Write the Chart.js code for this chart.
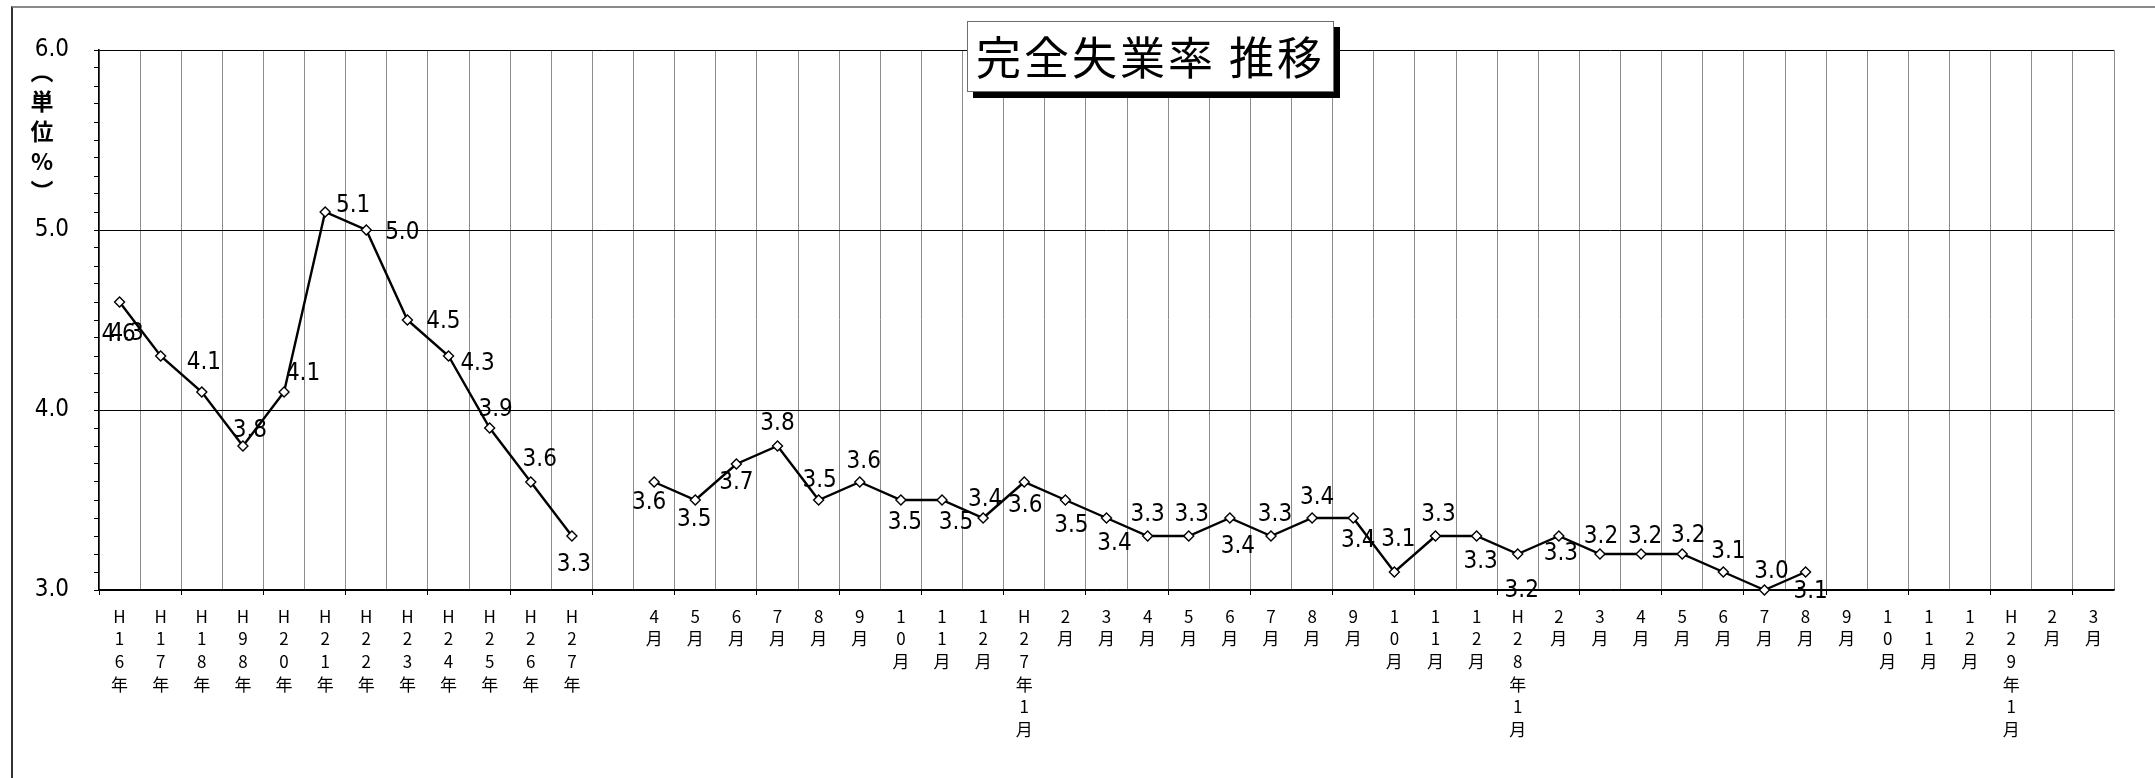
<!DOCTYPE html>
<html lang="ja">
<head>
<meta charset="utf-8">
<script src="https://cdn.jsdelivr.net/npm/chart.js@4.4.0/dist/chart.umd.min.js"></script>
<style>
html, body { margin: 0; padding: 0; background: #fff; }
body { width: 2155px; height: 778px; position: relative; overflow: hidden; }
#frame { position: absolute; left: 11px; top: 6px; width: 2300px; height: 900px;
  border-top: 2px solid #8a8a8a; border-left: 2px solid #333; }
#c { position: absolute; left: 0; top: 0; }
#title { position: absolute; left: 967px; top: 21px; width: 367px; height: 71px; box-sizing: border-box;
  border: 1.5px solid #6e6e6e; background: #fff; box-shadow: 6px 6px 0 #000;
  font: 45px 'Noto Sans CJK JP', sans-serif; letter-spacing: 3px; text-align: center; line-height: 68px;
  white-space: nowrap; }
#ytitle { position: absolute; left: 30px; top: 60px; width: 24px;
  writing-mode: vertical-rl; text-orientation: upright;
  font: bold 23px 'Noto Sans CJK JP', sans-serif; letter-spacing: 7px; line-height: 24px; }
</style>
</head>
<body>
<div id="frame"></div>
<canvas id="c" width="2155" height="778"></canvas>
<div id="title">完全失業率 推移</div>
<div id="ytitle">（単位%）</div>
<script>
// 年平均 (H16〜H27)
const annualLabels = ['H16年', 'H17年', 'H18年', 'H98年', 'H20年', 'H21年', 'H22年',
  'H23年', 'H24年', 'H25年', 'H26年', 'H27年'];
const annualValues = [4.6, 4.3, 4.1, 3.8, 4.1, 5.1, 5.0, 4.5, 4.3, 3.9, 3.6, 3.3];

// 月次 (H26年4月〜H29年3月)
const monthLabels = ['4月', '5月', '6月', '7月', '8月', '9月', '10月', '11月', '12月',
  'H27年1月', '2月', '3月', '4月', '5月', '6月', '7月', '8月', '9月', '10月', '11月', '12月',
  'H28年1月', '2月', '3月', '4月', '5月', '6月', '7月', '8月', '9月', '10月', '11月', '12月',
  'H29年1月', '2月', '3月'];
const monthValues = [3.6, 3.5, 3.7, 3.8, 3.5, 3.6, 3.5, 3.5, 3.4,
  3.6, 3.5, 3.4, 3.3, 3.3, 3.4, 3.3, 3.4, 3.4, 3.1, 3.3, 3.3,
  3.2, 3.3, 3.2, 3.2, 3.2, 3.1, 3.0, 3.1];

// data label nudges [dx, dy] from the point, one per plotted value
const labelNudge = [
  [-1, 33], [-34, -22], [2, -29], [7, -15], [19, -18], [28, -6], [36, 3], [36, 2],
  [29, 8], [6, -18], [9, -22], [2, 29],
  [-5, 21], [-1, 20], [0, 19], [0, -22], [1, -19], [4, -20], [4, 23], [14, 23], [2, -18],
  [1, 24], [6, 26], [8, 26], [0, -21], [3, -21], [8, 29], [4, -21], [5, -20], [5, 23],
  [4, -32], [3, -21], [4, 26], [4, 37], [2, 18], [1, -17], [4, -17], [6, -18], [5, -20],
  [7, -18], [5, 20]
];

const categories = [...annualLabels, '', ...monthLabels];
const values = [...annualValues, null, ...monthValues];
while (values.length < categories.length) values.push(null);

const numFont = "'Liberation Sans Narrow', 'DejaVu Sans Condensed', 'Arial Narrow', sans-serif";
const cjkFont = "'Noto Sans CJK JP', sans-serif";
const isMajor = v => Math.abs(v - Math.round(v)) < 1e-6;

const pointLabels = {
  id: 'pointLabels',
  afterDatasetsDraw(chart) {
    const ctx = chart.ctx;
    const meta = chart.getDatasetMeta(0);
    ctx.save();
    ctx.font = '24px ' + numFont;
    ctx.fillStyle = '#000';
    ctx.textAlign = 'center';
    ctx.textBaseline = 'middle';
    let k = 0;
    meta.data.forEach((pt, i) => {
      const v = values[i];
      if (v === null) return;
      const [dx, dy] = labelNudge[k++];
      ctx.fillText(v.toFixed(1), pt.x + dx, pt.y + dy);
    });
    ctx.restore();
  }
};

new Chart(document.getElementById('c'), {
  type: 'line',
  data: {
    labels: categories.map(s => Array.from(s)),
    datasets: [{
      data: values,
      borderColor: '#000',
      borderWidth: 2.4,
      tension: 0,
      spanGaps: false,
      pointStyle: 'rectRot',
      pointRadius: 5,
      pointBackgroundColor: '#fff',
      pointBorderColor: '#000',
      pointBorderWidth: 1.4,
      clip: false
    }]
  },
  options: {
    responsive: false,
    animation: false,
    devicePixelRatio: 1,
    layout: { padding: { left: 0, top: 50, right: 41, bottom: 0 } },
    plugins: {
      legend: { display: false },
      title: { display: false },
      tooltip: { enabled: false }
    },
    scales: {
      x: {
        type: 'category',
        offset: true,
        grid: {
          offset: true,
          color: '#8c8c8c',
          lineWidth: 1,
          tickLength: 5,
          tickColor: c => c.index % 2 === 0 ? '#000' : 'rgba(0,0,0,0)'
        },
        border: { color: '#000', width: 1.5 },
        ticks: {
          autoSkip: false,
          maxRotation: 0,
          minRotation: 0,
          padding: 10,
          color: '#000',
          font: { family: cjkFont, size: 17, lineHeight: 1.33 }
        },
        afterFit: s => { s.height = 188; }
      },
      y: {
        min: 3,
        max: 6,
        grid: {
          color: c => (c.tick && isMajor(c.tick.value)) ? '#000' : 'rgba(0,0,0,0)',
          tickColor: '#000',
          tickLength: 5
        },
        border: { color: '#000', width: 1.5 },
        ticks: {
          stepSize: 0.1,
          autoSkip: false,
          padding: 25,
          color: '#000',
          font: { family: numFont, size: 24 },
          callback: v => isMajor(v) ? v.toFixed(1) : ''
        },
        afterFit: s => { s.width = 99; }
      }
    }
  },
  plugins: [pointLabels]
});
</script>
</body>
</html>
